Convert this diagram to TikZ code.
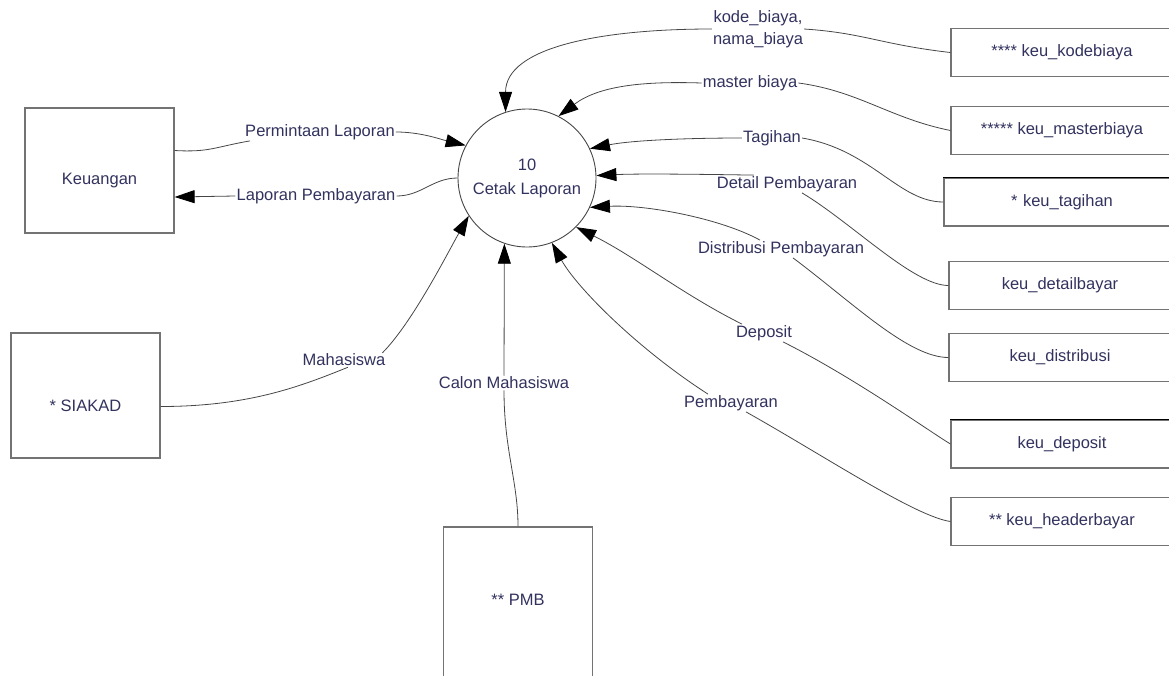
\documentclass[tikz,border=0pt]{standalone}
\usepackage{fontspec}
\setmainfont{Liberation Sans}
\usetikzlibrary{arrows.meta,calc}
\definecolor{txt}{RGB}{50,50,95}
\definecolor{ln}{RGB}{70,70,70}
\definecolor{bx}{RGB}{115,115,115}
\tikzset{
 every node/.style={font=\fontsize{16.5}{22}\selectfont, text=txt},
 ent/.style={draw=bx, line width=1.2pt, minimum width=149pt, minimum height=125pt, inner sep=0pt},
 store/.style={draw=bx, line width=1.1pt, minimum width=222pt, minimum height=48pt, inner sep=0pt},
 proc/.style={circle, draw=ln, line width=0.9pt, minimum size=138pt, inner sep=0pt, align=center},
 lab/.style={fill=white, inner sep=1pt, align=center},
 flow/.style={draw=ln, line width=0.8pt},
 arr/.style={flow, -{Triangle[length=20pt,width=13pt,color=black]}},
}
\begin{document}
\begin{tikzpicture}[x=1pt,y=-1pt]
\useasboundingbox (0,0) rectangle (1169,675);
\clip (0,0) rectangle (1169,675);
% external entities
\node[ent, label={[yshift=-10pt]center:Keuangan}] (keu) at (99.5,170.5) {};
\node[ent, label={[yshift=-10pt]center:* SIAKAD}] (siakad) at (85.5,395.5) {};
\node[ent, minimum height=160pt, label={[yshift=7pt]center:** PMB}] (pmb) at (518,607) {};
% process
\node[proc] (c) at (527,178) {10\\[2pt]Cetak Laporan};
% data stores
\node[store] (s1) at (1062,52.5) {**** keu\_kodebiaya};
\node[store] (s2) at (1062,130.5) {***** keu\_masterbiaya};
\node[store, minimum width=236pt, text width=222pt, align=center] (s3) at (1062,202) {* keu\_tagihan};
\node[store] (s4) at (1060,285.5) {keu\_detailbayar};
\node[store] (s5) at (1060,357.5) {keu\_distribusi};
\node[store] (s6) at (1062,444) {keu\_deposit};
\node[store] (s7) at (1062,521.5) {** keu\_headerbayar};
\draw[black, line width=1.3pt] (s3.north west) -- (s3.north east);
\draw[black, line width=1.3pt] (s6.north west) -- (s6.north east);
% labels
\node[lab] (l1) at (758,29) {kode\_biaya,\\nama\_biaya};
\node[lab] (l2) at (750,83) {master biaya};
\node[lab] (l3) at (772,138) {Tagihan};
\node[lab] (l4) at (787,184) {Detail Pembayaran};
\node[lab] (l5) at (781,249) {Distribusi Pembayaran};
\node[lab] (l6) at (764,333) {Deposit};
\node[lab] (l7) at (731,403) {Pembayaran};
\node[lab] (l8) at (504,383) {Calon Mahasiswa};
\node[lab] (l9) at (344,360) {Mahasiswa};
\node[lab] (l10) at (320,132) {Permintaan Laporan};
\node[lab] (l11) at (316,196) {Laporan Pembayaran};
% connectors
\draw[flow] (s1.west) .. controls +(-70,-8) and +(60,4) .. (l1.east);
\draw[arr] (l1.west) .. controls +(-110,0) and +(0,-65) .. (c.108);
\draw[flow] (s2.west) .. controls +(-60,-12) and +(60,8) .. (l2.east);
\draw[arr] (l2.west) .. controls +(-60,-2) and +(40,-30) .. (c.63);
\draw[arr] (l3.west) .. controls +(-60,0) and +(40,-8) .. (c.25);
\draw[flow] (l3.east) .. controls +(70,12) and +(-45,0) .. (s3.west);
\draw[arr] ($(l4.north west)+(38,0)$) .. controls +(-60,-1) and +(40,-2) .. (c.2);
\draw[flow] ($(l4.south)+(15,0)$) .. controls +(50,30) and +(-35,0) .. (s4.west);
\draw[arr] ($(l5.north)+(-21,0)$) .. controls +(-40,-22) and +(55,-3) .. (c.-25);
\draw[flow] ($(l5.south)+(12,0)$) .. controls +(60,45) and +(-40,0) .. (s5.west);
\draw[arr] ($(l6.north)+(-22,0)$) .. controls +(-60,-30) and +(60,30) .. (c.-45);
\draw[flow] ($(l6.south)+(19,0)$) .. controls +(70,35) and +(-20,-12) .. (s6.west);
\draw[arr] ($(l7.north)+(-23,0)$) .. controls +(-70,-45) and +(25,45) .. (c.-69);
\draw[flow] ($(l7.south)+(15,0)$) .. controls +(80,45) and +(-35,-5) .. (s7.west);
\draw[arr] (l8.north) -- (c.-109);
\draw[flow] (pmb.north) .. controls +(0,-45) and +(0,60) .. (l8.south);
\draw[flow] ($(siakad.east)+(0,11)$) .. controls +(90,0) and +(-45,18) .. ($(l9.south)+(4,0)$);
\draw[arr] ($(l9.north east)+(-4,0)$) .. controls +(30,-30) and +(-20,35) .. (c.-147);
\draw[flow] ($(keu.east)+(0,-20)$) .. controls +(35,2) and +(-35,6) .. ($(l10.south west)+(6,0)$);
\draw[arr] (l10.east) .. controls +(25,0) and +(-25,-6) .. (c.152);
\draw[flow] (c.180) .. controls +(-25,0) and +(25,0) .. (l11.east);
\draw[arr] (l11.west) -- ($(keu.east)+(0,26.5)$);
\end{tikzpicture}
\end{document}
